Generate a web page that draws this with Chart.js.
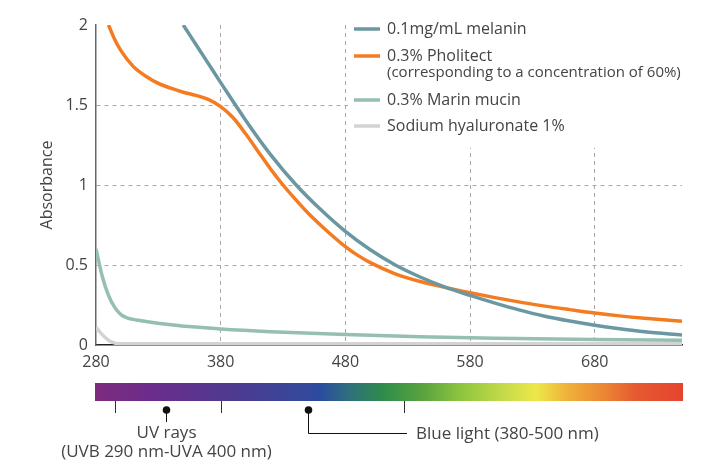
<!DOCTYPE html>
<html>
<head>
<meta charset="utf-8">
<script src="https://cdn.jsdelivr.net/npm/chart.js@4"></script>
<style>
  html, body { margin: 0; padding: 0; background: #fff; }
  #wrap { width: 722px; height: 460px; }
</style>
</head>
<body>
<div id="wrap"><canvas id="c" width="722" height="460"></canvas></div>
<script>
// wavelength (nm) / absorbance
const melaninX  = [350, 360, 370, 380, 400, 420, 440, 460, 480, 500, 520, 540, 560, 580, 600, 620, 640, 660, 680, 700, 720, 750];
const melaninY  = [2.0, 1.88, 1.76, 1.64, 1.405, 1.19, 1.005, 0.848, 0.71, 0.595, 0.50, 0.425, 0.362, 0.31, 0.262, 0.218, 0.18, 0.15, 0.124, 0.102, 0.083, 0.063];
const pholitectX = [290, 295, 300, 310, 320, 330, 340, 350, 360, 370, 380, 390, 400, 410, 420, 430, 440, 450, 460, 470, 480, 490, 500, 520, 540, 560, 580, 600, 620, 640, 660, 680, 700, 720, 750];
const pholitectY = [2.0, 1.91, 1.84, 1.74, 1.68, 1.635, 1.605, 1.58, 1.56, 1.535, 1.49, 1.42, 1.32, 1.21, 1.10, 1.0, 0.91, 0.825, 0.75, 0.68, 0.615, 0.56, 0.515, 0.445, 0.397, 0.36, 0.327, 0.296, 0.268, 0.243, 0.221, 0.2, 0.182, 0.167, 0.148];
const mucinX = [280, 285, 290, 295, 300, 305, 310, 320, 340, 360, 380, 420, 480, 540, 600, 680, 750];
const mucinY = [0.6, 0.43, 0.31, 0.235, 0.19, 0.17, 0.16, 0.147, 0.127, 0.112, 0.1, 0.083, 0.065, 0.052, 0.042, 0.034, 0.03];
const hyaluX = [280, 285, 290, 295, 300, 400, 550, 750];
const hyaluY = [0.11, 0.065, 0.03, 0.012, 0.008, 0.008, 0.008, 0.008];

const xTicks = [280, 380, 480, 580, 680];
const yTicks = [0, 0.5, 1, 1.5, 2];

const seriesNames = ["0.1mg/mL melanin", "0.3% Pholitect", "0.3% Marin mucin", "Sodium hyaluronate 1%"];
const seriesSub = ["", "(corresponding to a concentration of 60%)", "", ""];
const seriesColors = ["#6a97a1", "#f47b20", "#94bfb1", "#d3d3d3"];

// spectrum annotations (nm on the chart's x scale)
const spectrumMarks = [295, 380, 527];
const uvDot = 336;
const blueDot = 450;

const FONT = "'Open Sans', 'Noto Sans', sans-serif";
const TEXT = "#444";

function pts(xs, ys) { return xs.map((x, i) => ({ x: x, y: ys[i] })); }

const extras = {
  id: "extras",
  beforeDatasetsDraw(chart) {
    const ctx = chart.ctx;
    // white box behind legend
    ctx.save();
    ctx.fillStyle = "#fff";
    ctx.fillRect(348, 0, 374, 148);
    ctx.restore();
  },
  afterDraw(chart) {
    const ctx = chart.ctx;
    const xs = chart.scales.x;
    const area = chart.chartArea;
    ctx.save();

    // legend
    const rows = [29, 56, 100, 126];
    ctx.textBaseline = "middle";
    ctx.textAlign = "left";
    rows.forEach((y, i) => {
      ctx.strokeStyle = seriesColors[i];
      ctx.lineWidth = 3.5;
      ctx.beginPath();
      ctx.moveTo(354, y);
      ctx.lineTo(380, y);
      ctx.stroke();
      ctx.fillStyle = TEXT;
      ctx.font = "16px " + FONT;
      ctx.fillText(seriesNames[i], 387, y);
      if (seriesSub[i]) {
        ctx.font = "15px " + FONT;
        ctx.fillText(seriesSub[i], 387, y + 17);
      }
    });

    // y title
    ctx.save();
    ctx.translate(47, 185);
    ctx.rotate(-Math.PI / 2);
    ctx.textAlign = "center";
    ctx.font = "16px " + FONT;
    ctx.fillStyle = TEXT;
    ctx.fillText("Absorbance", 0, 0);
    ctx.restore();

    // spectrum bar
    const top = 383, h = 18;
    const l = 95, r = area.right + 1;
    const g = ctx.createLinearGradient(l, 0, r, 0);
    g.addColorStop(0.00, "#7e2b7e");
    g.addColorStop(0.10, "#6a2d8c");
    g.addColorStop(0.25, "#4b3c92");
    g.addColorStop(0.36, "#34499c");
    g.addColorStop(0.38, "#2a4aa0");
    g.addColorStop(0.43, "#2e6e80");
    g.addColorStop(0.49, "#2e8c4a");
    g.addColorStop(0.56, "#5ba43e");
    g.addColorStop(0.62, "#8cc43e");
    g.addColorStop(0.70, "#c8dc4a");
    g.addColorStop(0.75, "#eee84a");
    g.addColorStop(0.80, "#f0b43a");
    g.addColorStop(0.86, "#ec8a34");
    g.addColorStop(0.92, "#e65a30");
    g.addColorStop(1.00, "#e4442e");
    ctx.fillStyle = g;
    ctx.fillRect(l, top, r - l, h);

    ctx.strokeStyle = "#333";
    ctx.lineWidth = 1;
    spectrumMarks.forEach(v => {
      const px = Math.round(xs.getPixelForValue(v)) + 0.5;
      ctx.beginPath();
      ctx.moveTo(px, top + h);
      ctx.lineTo(px, top + h + 12);
      ctx.stroke();
    });

    // UV dot
    ctx.fillStyle = "#111";
    const ux = Math.round(xs.getPixelForValue(uvDot)) + 0.5;
    ctx.beginPath(); ctx.arc(ux, 410, 3.8, 0, Math.PI * 2); ctx.fill();
    ctx.strokeStyle = "#111";
    ctx.beginPath(); ctx.moveTo(ux, 410); ctx.lineTo(ux, 422); ctx.stroke();

    // blue dot + elbow
    const bx = Math.round(xs.getPixelForValue(blueDot)) + 0.5;
    const endX = Math.round(xs.getPixelForValue(spectrumMarks[2])) + 3;
    ctx.beginPath(); ctx.arc(bx, 410, 3.8, 0, Math.PI * 2); ctx.fill();
    ctx.beginPath();
    ctx.moveTo(bx, 410); ctx.lineTo(bx, 433.5); ctx.lineTo(endX, 433.5);
    ctx.stroke();

    ctx.fillStyle = TEXT;
    ctx.font = "17px " + FONT;
    ctx.textAlign = "center";
    ctx.fillText("UV rays", ux, 433);
    ctx.fillText("(UVB 290 nm-UVA 400 nm)", ux, 452);
    ctx.textAlign = "left";
    ctx.fillText("Blue light (380-500 nm)", endX + 9, 434);

    ctx.restore();
  }
};

const gridX = ctx => (ctx.tick && ctx.tick.value === 280) ? "rgba(0,0,0,0)" : "#a8a8a8";
const gridY = ctx => (ctx.tick && (ctx.tick.value === 0 || ctx.tick.value === 2)) ? "rgba(0,0,0,0)" : "#a8a8a8";

new Chart(document.getElementById("c"), {
  type: "line",
  data: {
    datasets: [
      { data: pts(melaninX, melaninY), borderColor: seriesColors[0] },
      { data: pts(pholitectX, pholitectY), borderColor: seriesColors[1] },
      { data: pts(mucinX, mucinY), borderColor: seriesColors[2] },
      { data: pts(hyaluX, hyaluY), borderColor: seriesColors[3] },
    ],
  },
  options: {
    responsive: false,
    animation: false,
    layout: { padding: { top: 25, right: 40, left: 0, bottom: 0 } },
    elements: {
      line: { borderWidth: 3.5, cubicInterpolationMode: "monotone", fill: false },
      point: { radius: 0 },
    },
    plugins: { legend: { display: false }, tooltip: { enabled: false } },
    scales: {
      x: {
        type: "linear",
        min: 280,
        max: 750,
        afterBuildTicks: s => { s.ticks = xTicks.map(v => ({ value: v })); },
        afterFit: s => { s.height = 115; },
        grid: { color: gridX, drawTicks: false, lineWidth: 1 },
        border: { color: "#222", width: 1.5, dash: [4, 4] },
        ticks: { padding: 8, color: TEXT, font: { family: FONT, size: 16 }, maxRotation: 0 },
      },
      y: {
        min: 0,
        max: 2,
        afterBuildTicks: s => { s.ticks = yTicks.map(v => ({ value: v })); },
        afterFit: s => { s.width = 96; },
        grid: { color: gridY, drawTicks: false, lineWidth: 1 },
        border: { color: "#666", width: 1.5, dash: [4, 4] },
        ticks: { padding: 8, color: TEXT, font: { family: FONT, size: 16 }, callback: v => String(v) },
      },
    },
  },
  plugins: [extras],
});
</script>
</body>
</html>
